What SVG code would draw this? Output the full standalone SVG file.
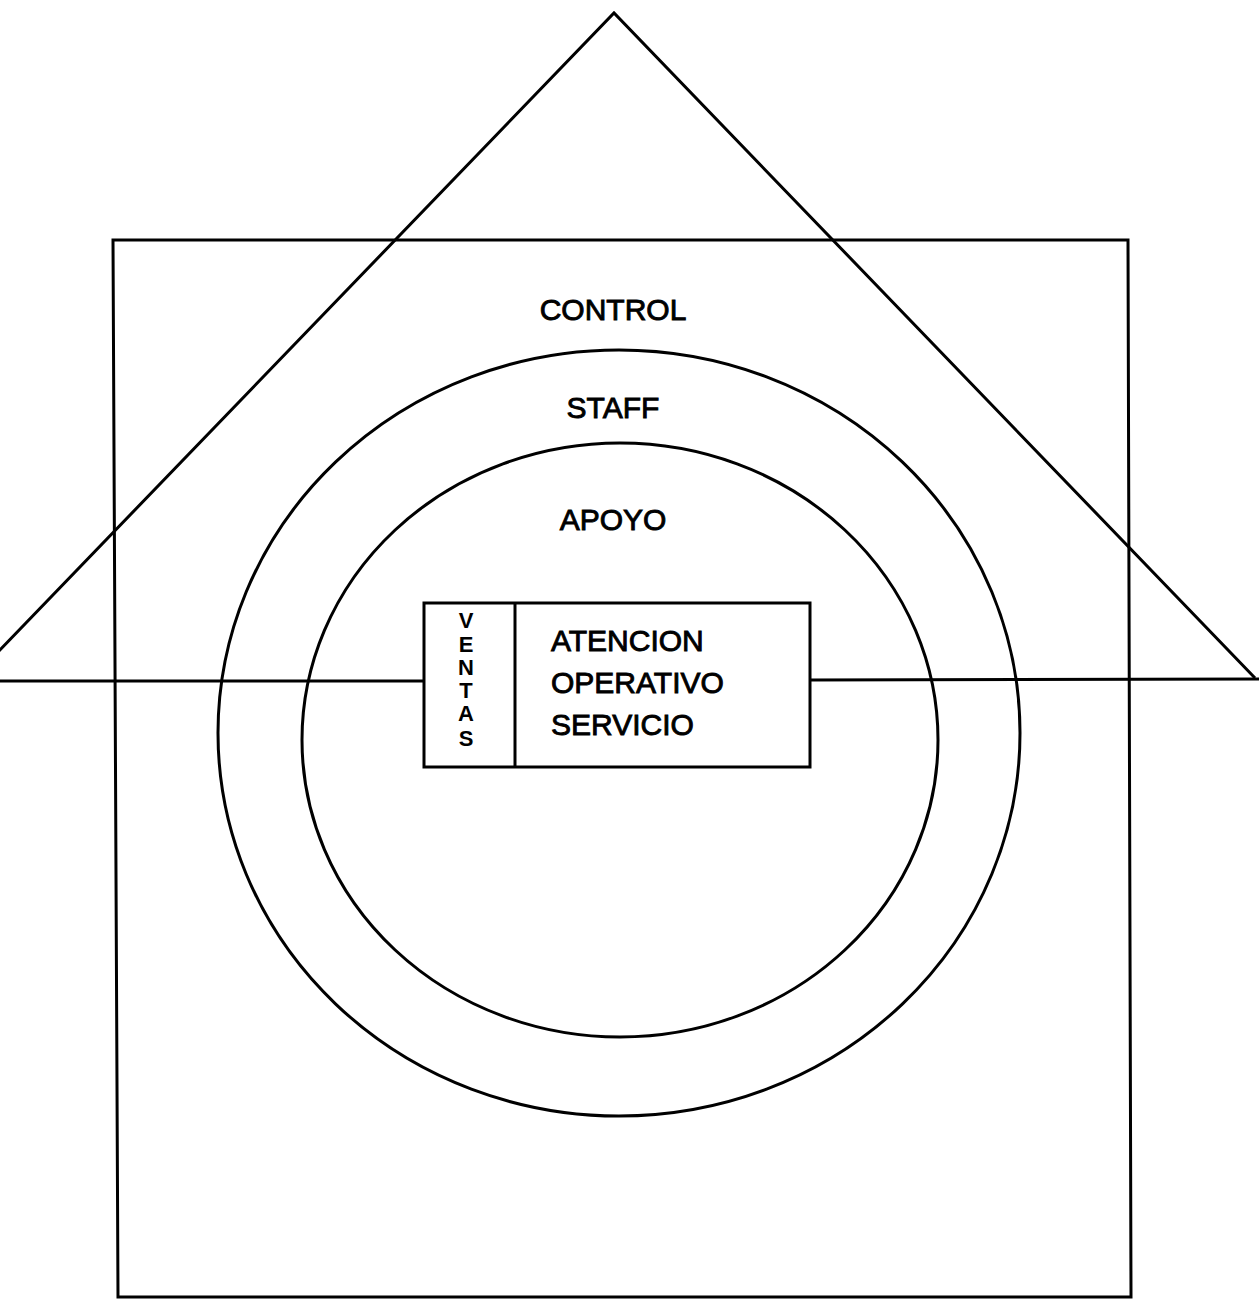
<svg xmlns="http://www.w3.org/2000/svg" width="1259" height="1299" viewBox="0 0 1259 1299">
<style>
.ln{fill:none;stroke:#000;stroke-width:3;stroke-linejoin:miter}
.t{font-family:"Liberation Sans",Arial,sans-serif;font-size:30px;fill:#000;stroke:#000;stroke-width:0.9}
.v{font-family:"Liberation Sans",Arial,sans-serif;font-size:22px;font-weight:bold;fill:#000;text-anchor:middle}
</style>
<rect width="1259" height="1299" fill="#fff"/>
<g id="triangle">
<polyline class="ln" points="-30,681 614,13 1255,678"/>
</g>
<g id="square">
<polygon class="ln" points="113,240 1128,240 1131,1297 118,1297"/>
</g>
<g id="connectors">
<line class="ln" x1="0" y1="681" x2="425" y2="681"/>
<line class="ln" x1="810" y1="680" x2="1259" y2="679"/>
</g>
<g id="staff-ring">
<ellipse class="ln" cx="619" cy="733" rx="401" ry="383"/>
</g>
<g id="apoyo-ring">
<ellipse class="ln" cx="620" cy="740" rx="318" ry="297"/>
</g>
<g id="labels">
<text class="t" x="613" y="320" text-anchor="middle">CONTROL</text>
<text class="t" x="613" y="418" text-anchor="middle">STAFF</text>
<text class="t" x="613" y="530" text-anchor="middle">APOYO</text>
</g>
<g id="core-box">
<rect class="ln" x="424" y="603" width="386" height="164"/>
<line class="ln" x1="515" y1="603" x2="515" y2="767"/>
<text class="v" x="466" y="628">V</text>
<text class="v" x="466" y="652">E</text>
<text class="v" x="466" y="675">N</text>
<text class="v" x="466" y="698">T</text>
<text class="v" x="466" y="721">A</text>
<text class="v" x="466" y="746">S</text>
<text class="t" x="551" y="651">ATENCION</text>
<text class="t" x="551" y="693">OPERATIVO</text>
<text class="t" x="551" y="735">SERVICIO</text>
</g>
</svg>
